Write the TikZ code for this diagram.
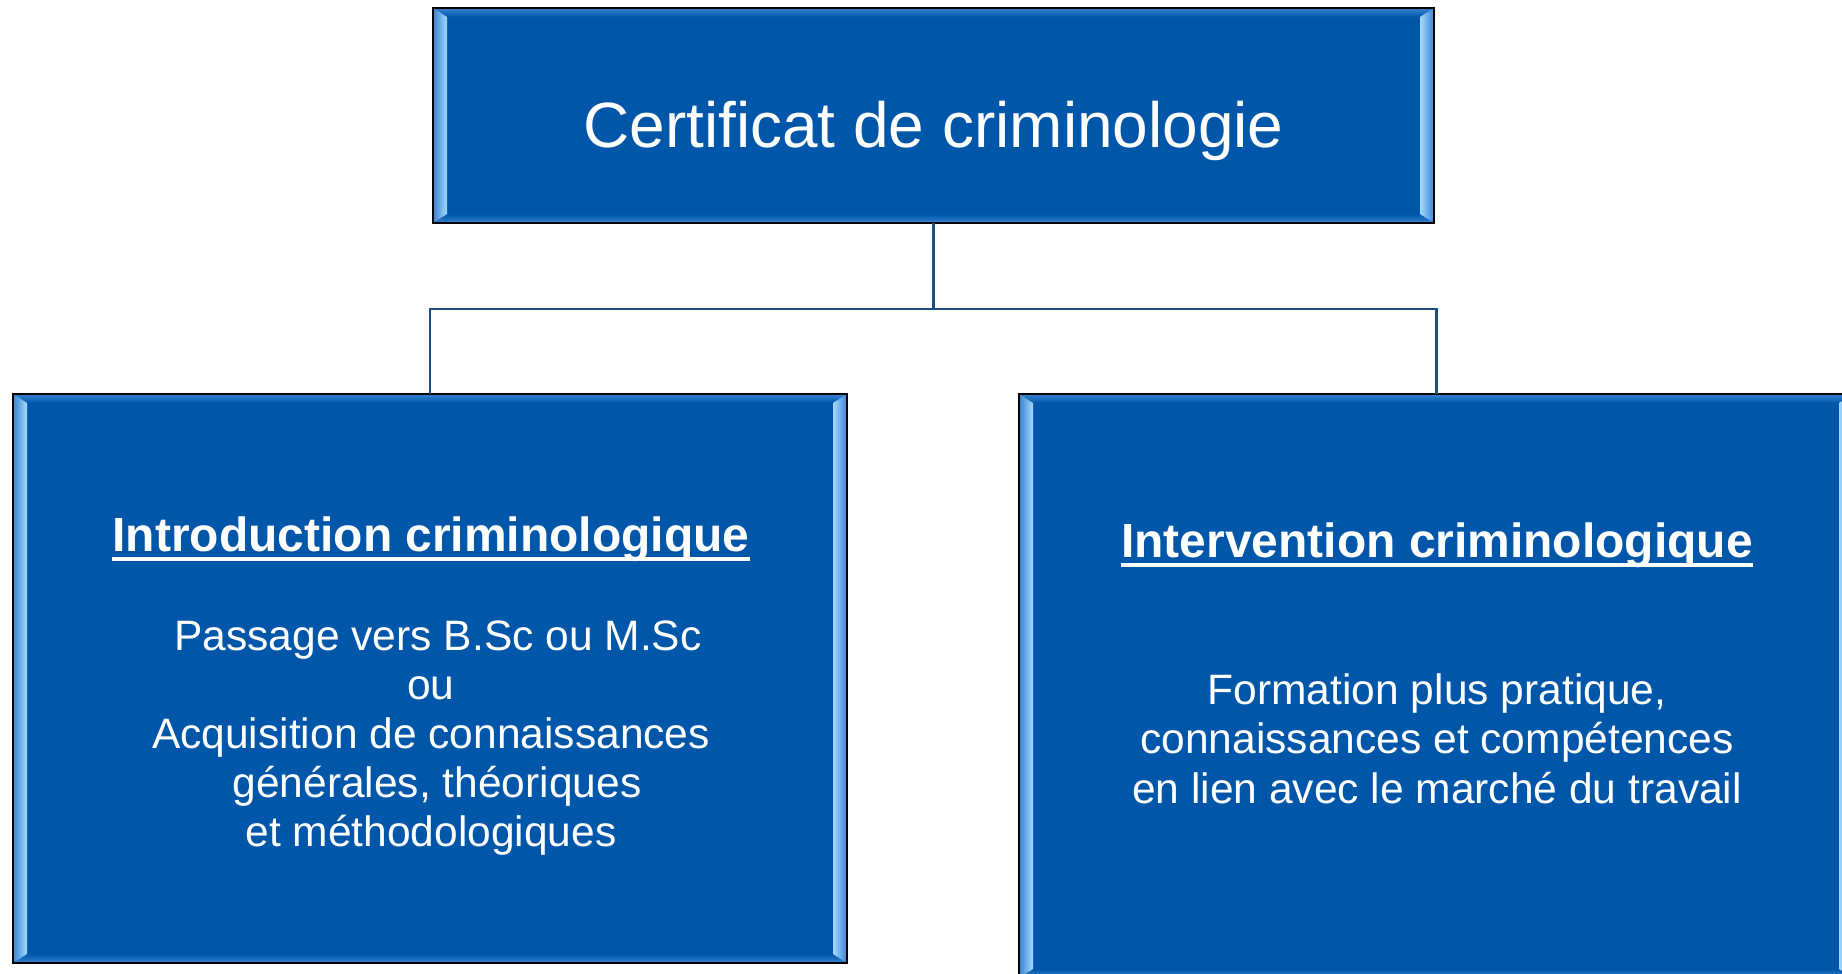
\documentclass[tikz,border=0pt]{standalone}
\usepackage{fontspec}
\setmainfont{Liberation Sans}
\usetikzlibrary{calc}

\definecolor{boxblue}{RGB}{0,86,168}
\definecolor{bevlight}{RGB}{165,218,255}
\definecolor{bevmid}{RGB}{55,130,210}
\definecolor{linkblue}{RGB}{28,78,130}

\tikzset{
  bluebox/.style={draw=black, line width=1.1pt, fill=boxblue, rectangle, inner sep=0pt, outer sep=0pt},
  titletext/.style={text=white, inner sep=0pt, font=\fontsize{36.4}{44}\selectfont},
  headtext/.style={text=white, inner sep=0pt, font=\bfseries\fontsize{27.3}{33}\selectfont},
  bodytext/.style={text=white, inner sep=0pt, font=\fontsize{24.2}{29}\selectfont},
  link/.style={draw=linkblue, line width=1.7pt},
}

\begin{document}
\begin{tikzpicture}[x=0.2mm,y=-0.2mm]
  \def\bw{14}
  \def\bh{9}
  \useasboundingbox (0,0) rectangle (1842,974);

  % boxes
  \node[bluebox, minimum width=1001*0.2mm, minimum height=215*0.2mm] (cert) at (933.5,115.5) {};
  \node[bluebox, minimum width=834*0.2mm, minimum height=569*0.2mm] (intro) at (430,678.5) {};
  \node[bluebox, minimum width=834*0.2mm, minimum height=584*0.2mm] (interv) at (1436,686) {};

  % bevelled edges
  \foreach \b in {cert,intro,interv}{
    \shade[top color=bevmid, bottom color=boxblue]
      (\b.north west) -- (\b.north east) -- ($(\b.north east)+(-\bw,\bh)$) -- ($(\b.north west)+(\bw,\bh)$) -- cycle;
    \shade[top color=boxblue, bottom color=bevmid]
      (\b.south west) -- (\b.south east) -- ($(\b.south east)+(-\bw,-\bh)$) -- ($(\b.south west)+(\bw,-\bh)$) -- cycle;
    \shade[left color=bevmid, right color=bevlight]
      (\b.north west) -- ($(\b.north west)+(\bw,\bh)$) -- ($(\b.south west)+(\bw,-\bh)$) -- (\b.south west) -- cycle;
    \shade[left color=bevlight, right color=bevmid]
      (\b.north east) -- ($(\b.north east)+(-\bw,\bh)$) -- ($(\b.south east)+(-\bw,-\bh)$) -- (\b.south east) -- cycle;
    \draw[black, line width=1.1pt] (\b.north west) rectangle (\b.south east);
  }

  % connectors
  \coordinate (split) at ($(cert.south)+(0,86)$);
  \draw[link] (cert.south) -- (split) -| (intro.north);
  \draw[link] (split) -| (interv.north);

  % texts
  \node[titletext, anchor=base] (title) at (933.5,147) {Certificat de criminologie};

  \node[headtext, anchor=base] (ihead) at (431,551) {Introduction criminologique};
  \draw[white, line width=2.1pt] ($(ihead.base west)+(0,8)$) -- ($(ihead.base east)+(0,8)$);
  \foreach \i/\txt/\xx/\yy in {1/{Passage vers B.Sc ou M.Sc}/438/650, 2/ou/431/699,
      3/{Acquisition de connaissances}/431/748, 4/{générales, théoriques}/437/797,
      5/{et méthodologiques}/431/846}{
    \node[bodytext, anchor=base] (ibody\i) at (\xx,\yy) {\txt};
  }

  \node[headtext, anchor=base] (vhead) at (1437,557) {Intervention criminologique};
  \draw[white, line width=2.1pt] ($(vhead.base west)+(0,8)$) -- ($(vhead.base east)+(0,8)$);
  \foreach \i/\txt/\yy in {1/{Formation plus pratique,}/704,
      2/{connaissances et compétences}/753.5, 3/{en lien avec le marché du travail}/803}{
    \node[bodytext, anchor=base] (vbody\i) at (1437,\yy) {\txt};
  }
\end{tikzpicture}
\end{document}
